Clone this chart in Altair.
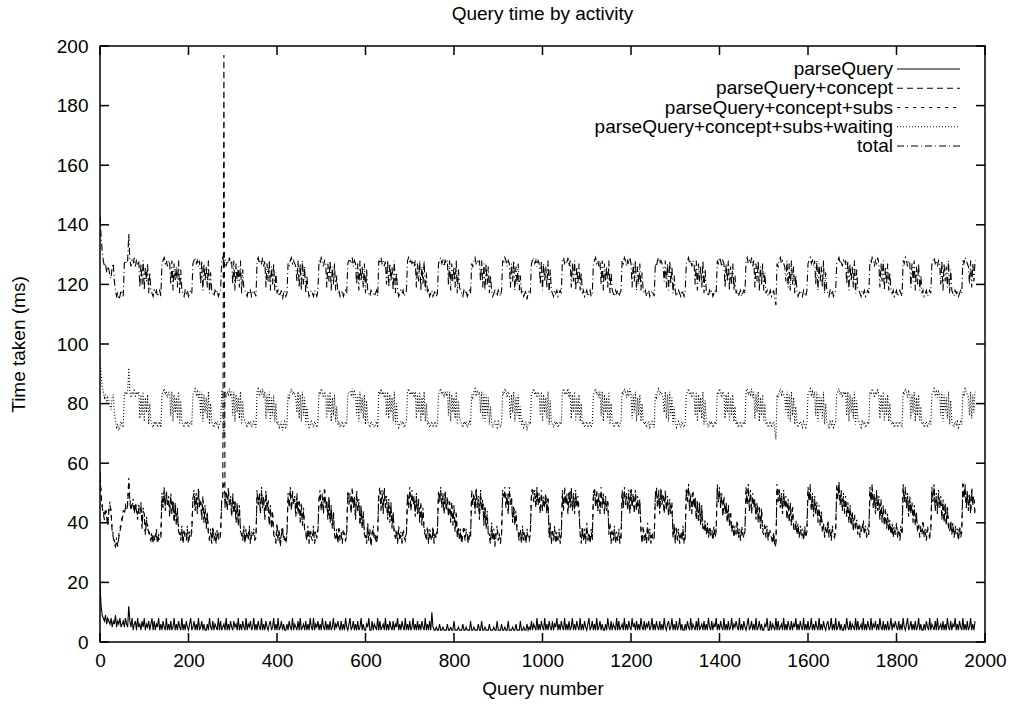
import altair as alt
import pandas as pd

# ---------------- text ----------------
title_text = "Query time by activity"
x_title = "Query number"
y_title = "Time taken (ms)"
series_names = [
    "parseQuery",
    "parseQuery+concept",
    "parseQuery+concept+subs",
    "parseQuery+concept+subs+waiting",
    "total",
]
x_ticks = [0, 200, 400, 600, 800, 1000, 1200, 1400, 1600, 1800, 2000]
y_ticks = [0, 20, 40, 60, 80, 100, 120, 140, 160, 180, 200]

# sampling step of the query number (one value every 2.5 queries)
step_fine = 2.5

# ---------------- series values (ms) ----------------
parse_query = [
    19, 12, 9, 8, 7, 9, 6, 8, 7, 6, 8, 5, 7, 6, 9, 5, 7, 6, 8, 5, 6, 7, 5, 8,
    6, 5, 12, 7, 5, 8, 4, 6, 7, 4, 8, 5, 6, 4, 7, 5, 8, 4, 6, 5, 7, 4, 6, 8,
    4, 7, 4, 6, 5, 8, 4, 6, 4, 7, 5, 4, 8, 4, 6, 4, 7, 4, 5, 8, 4, 6, 4, 7,
    5, 4, 8, 4, 6, 4, 7, 5, 4, 6, 8, 4, 5, 7, 4, 6, 4, 8, 4, 5, 7, 4, 6, 4,
    4, 6, 4, 8, 5, 4, 7, 4, 6, 5, 4, 8, 4, 7, 4, 5, 6, 4, 8, 4, 6, 4, 7, 5,
    4, 7, 5, 6, 4, 8, 4, 6, 4, 7, 5, 4, 8, 4, 6, 5, 7, 4, 5, 8, 4, 6, 4, 7,
    5, 4, 8, 4, 6, 4, 7, 5, 4, 6, 7, 4, 5, 8, 4, 6, 4, 8, 4, 5, 7, 4, 6, 4,
    4, 6, 4, 7, 5, 4, 8, 4, 6, 5, 4, 7, 4, 8, 4, 5, 6, 4, 7, 4, 6, 4, 8, 5,
    4, 8, 4, 6, 5, 7, 4, 6, 4, 8, 5, 4, 7, 4, 6, 4, 7, 4, 5, 8, 4, 6, 5, 7,
    5, 4, 7, 4, 6, 4, 8, 5, 4, 6, 8, 4, 5, 7, 4, 6, 4, 7, 4, 5, 8, 4, 6, 4,
    4, 6, 5, 8, 4, 4, 7, 4, 6, 5, 4, 8, 4, 7, 4, 5, 6, 4, 8, 4, 6, 4, 7, 5,
    4, 7, 4, 6, 5, 8, 4, 6, 4, 7, 5, 4, 8, 4, 6, 4, 7, 4, 5, 8, 4, 6, 4, 7,
    4, 6, 4, 7, 5, 4, 8, 4, 6, 4, 7, 4, 10, 5, 4, 4, 5, 4, 4, 6, 4, 4, 5, 4,
    4, 4, 6, 4, 4, 5, 4, 4, 7, 4, 4, 4, 5, 4, 4, 4, 6, 4, 4, 5, 4, 4, 4, 7,
    4, 4, 5, 4, 4, 4, 6, 4, 4, 7, 4, 4, 5, 4, 4, 4, 6, 4, 4, 4, 5, 4, 4, 7,
    4, 4, 4, 6, 4, 4, 5, 4, 4, 7, 4, 4, 4, 5, 4, 4, 6, 4, 4, 4, 7, 4, 4, 5,
    4, 4, 6, 4, 5, 4, 7, 4, 6, 5, 4, 8, 4, 6, 4, 7, 5, 4, 8, 4, 6, 4, 7, 5,
    4, 7, 4, 6, 5, 8, 4, 6, 4, 7, 5, 4, 8, 4, 6, 4, 7, 4, 5, 8, 4, 6, 4, 7,
    5, 4, 8, 4, 6, 4, 7, 5, 4, 6, 8, 4, 5, 7, 4, 6, 4, 8, 4, 5, 7, 4, 6, 4,
    4, 6, 4, 8, 5, 4, 7, 4, 6, 5, 4, 8, 4, 7, 4, 5, 6, 4, 8, 4, 6, 4, 7, 5,
    4, 8, 5, 6, 4, 7, 4, 6, 4, 8, 5, 4, 7, 4, 6, 5, 7, 4, 5, 8, 4, 6, 4, 7,
    5, 4, 7, 4, 6, 4, 8, 5, 4, 6, 7, 4, 5, 8, 4, 6, 4, 7, 4, 5, 8, 4, 6, 4,
    4, 6, 4, 7, 5, 4, 8, 4, 6, 5, 4, 7, 4, 8, 4, 5, 6, 4, 7, 4, 6, 4, 8, 5,
    4, 7, 4, 6, 5, 8, 4, 6, 4, 7, 5, 4, 8, 4, 6, 4, 7, 4, 5, 8, 4, 6, 5, 7,
    5, 4, 8, 4, 6, 4, 7, 5, 4, 6, 8, 4, 5, 7, 4, 6, 4, 8, 4, 5, 7, 4, 6, 4,
    4, 6, 5, 8, 4, 4, 7, 4, 6, 5, 4, 8, 4, 7, 4, 5, 6, 4, 8, 4, 6, 4, 7, 5,
    4, 7, 4, 6, 5, 8, 4, 6, 4, 7, 5, 4, 8, 4, 6, 4, 7, 4, 5, 8, 4, 6, 4, 7,
    5, 4, 8, 4, 6, 4, 7, 5, 4, 6, 7, 4, 5, 8, 4, 6, 4, 8, 4, 5, 7, 4, 6, 4,
    4, 6, 4, 8, 5, 4, 7, 4, 6, 5, 4, 8, 4, 7, 4, 5, 6, 4, 8, 4, 6, 4, 7, 5,
    4, 8, 4, 6, 5, 7, 4, 6, 4, 8, 5, 4, 7, 4, 6, 4, 7, 4, 5, 8, 4, 6, 5, 7,
    5, 4, 7, 4, 6, 4, 8, 5, 4, 6, 8, 4, 5, 7, 4, 6, 4, 7, 4, 5, 8, 4, 6, 4,
    4, 6, 4, 7, 5, 4, 8, 4, 6, 5, 4, 7, 4, 8, 4, 5, 6, 4, 7, 4, 6, 4, 8, 5,
    4, 7, 4, 6, 5, 8, 4, 6, 4, 7, 5, 4, 8, 4, 6, 4, 7, 4, 5, 8, 4, 6, 4, 7,
]

concept = [
    56, 49, 45, 43, 41, 44, 42, 39, 44, 46, 43, 37, 35, 33, 32, 34, 32, 35, 37, 39, 41, 43,
    43, 45, 44, 46, 54, 47, 44, 46, 47, 43, 46, 44, 41, 45, 43, 46, 38, 44, 43, 36, 41, 38, 37, 35, 34, 36, 33, 35, 34, 37, 33, 35, 34, 35,
    49, 45, 51, 44, 50, 46, 48, 42, 49, 43, 47, 40, 46, 39, 44, 37, 36, 34, 38, 33, 37, 35, 34, 38, 33, 36, 35, 37,
    48, 50, 44, 49, 43, 51, 45, 47, 41, 48, 40, 45, 38, 43, 36, 34, 37, 33, 38, 34, 36, 33, 37, 35, 34, 36,
    47, 49, 197, 45, 50, 44, 51, 46, 48, 42, 49, 43, 47, 40, 46, 39, 45, 37, 36, 34, 38, 33, 37, 35, 34, 38, 33, 36, 35, 37, 34, 35,
    50, 46, 49, 43, 51, 45, 48, 41, 50, 44, 47, 39, 45, 38, 43, 36, 35, 33, 39, 34, 37, 32, 36, 38, 34, 35, 33, 36,
    49, 45, 51, 44, 50, 46, 48, 42, 49, 43, 47, 40, 46, 39, 44, 37, 36, 34, 38, 33, 37, 35, 34, 38, 33, 36, 35, 37,
    48, 50, 44, 49, 43, 51, 45, 47, 41, 48, 40, 45, 38, 43, 36, 34, 37, 33, 38, 34, 36, 33, 37, 35, 34, 36,
    50, 46, 49, 43, 51, 45, 48, 41, 50, 44, 47, 39, 45, 38, 43, 36, 35, 33, 39, 34, 37, 32, 36, 38, 34, 35, 33, 36,
    49, 51, 44, 50, 43, 51, 45, 48, 41, 47, 40, 46, 38, 43, 36, 35, 37, 33, 38, 34, 36, 33, 37, 35, 34, 36,
    49, 45, 51, 44, 50, 46, 48, 42, 49, 43, 47, 40, 46, 39, 44, 37, 36, 34, 38, 33, 37, 35, 34, 38, 33, 36, 35, 37,
    50, 47, 51, 45, 49, 43, 50, 44, 48, 42, 47, 40, 46, 39, 45, 37, 43, 35, 38, 34, 37, 33, 36, 38, 34, 37, 35, 33, 36, 35,
    50, 46, 49, 43, 51, 45, 48, 41, 50, 44, 47, 39, 45, 38, 43, 36, 35, 33, 39, 34, 37, 32, 36, 38, 34, 35, 33, 36,
    50, 48, 51, 45, 49, 43, 51, 46, 48, 40, 45, 39, 43, 37, 36, 34, 37, 33, 38, 34, 36, 33, 37, 35, 34, 36,
    49, 51, 47, 50, 45, 51, 46, 49, 43, 50, 44, 48, 45, 49, 43, 48, 35, 39, 33, 37, 34, 38, 33, 36, 34, 37, 33, 36,
    50, 44, 51, 46, 49, 43, 50, 45, 51, 44, 49, 43, 50, 45, 48, 44, 36, 33, 38, 34, 37, 33, 39, 34, 36, 33, 37, 34,
    49, 51, 45, 50, 44, 49, 43, 51, 45, 49, 43, 48, 44, 47, 36, 39, 33, 37, 34, 38, 33, 36, 34, 37, 33, 35,
    50, 45, 51, 46, 49, 44, 50, 43, 51, 45, 49, 43, 50, 44, 48, 43, 47, 37, 33, 38, 34, 36, 33, 39, 34, 37, 33, 36, 34, 35,
    49, 51, 45, 50, 43, 51, 46, 49, 43, 50, 44, 48, 42, 47, 43, 46, 35, 39, 33, 38, 34, 37, 33, 36, 34, 38, 33, 35,
    51, 47, 52, 44, 49, 43, 50, 45, 48, 41, 47, 40, 46, 39, 45, 38, 37, 40, 36, 39, 35, 38, 36, 37, 34, 38, 35, 37,
    52, 47, 51, 45, 49, 42, 48, 43, 46, 40, 45, 39, 43, 37, 39, 35, 38, 36, 40, 35, 37, 34, 38, 36, 35, 37,
    51, 46, 52, 44, 50, 43, 49, 45, 47, 41, 46, 40, 45, 38, 44, 37, 36, 39, 35, 38, 34, 37, 36, 35, 33, 36, 32, 33,
    52, 47, 51, 45, 49, 43, 50, 45, 48, 41, 47, 40, 46, 39, 45, 38, 37, 40, 36, 39, 35, 38, 36, 37, 34, 38, 35, 37,
    51, 47, 52, 44, 49, 42, 48, 43, 46, 40, 45, 39, 43, 37, 39, 35, 38, 36, 40, 35, 37, 34, 38, 36, 35, 37,
    52, 48, 53, 46, 50, 44, 49, 43, 48, 42, 46, 40, 45, 39, 43, 37, 42, 38, 40, 36, 39, 35, 38, 37, 40, 36, 38, 35, 37, 36,
    51, 47, 52, 45, 49, 43, 50, 44, 48, 41, 47, 40, 45, 39, 44, 38, 42, 37, 40, 36, 39, 35, 38, 36, 39, 35, 37, 34, 38, 36,
    52, 47, 51, 45, 49, 42, 48, 43, 46, 40, 45, 39, 43, 37, 39, 35, 38, 36, 40, 35, 37, 34, 38, 36, 35, 37,
    51, 47, 52, 44, 49, 43, 50, 45, 48, 41, 47, 40, 46, 39, 45, 38, 37, 40, 36, 39, 35, 38, 36, 37, 34, 38, 35, 37,
    53, 48, 52, 45, 50, 44, 49, 43, 51, 46, 48, 42,
]

subs = [
    57, 50, 46, 44, 42, 45, 43, 40, 45, 47, 44, 38, 36, 34, 33, 35, 33, 36, 38, 40, 42, 44,
    44, 46, 45, 47, 55, 48, 45, 47, 48, 44, 47, 45, 42, 46, 44, 47, 39, 45, 44, 37, 42, 39, 38, 36, 35, 37, 34, 36, 35, 38, 34, 36, 35, 36,
    50, 46, 52, 45, 51, 47, 49, 43, 50, 44, 48, 41, 47, 40, 45, 38, 37, 35, 39, 34, 38, 36, 35, 39, 34, 37, 36, 38,
    49, 51, 45, 50, 44, 52, 46, 48, 42, 49, 41, 46, 39, 44, 37, 35, 38, 34, 39, 35, 37, 34, 38, 36, 35, 37,
    48, 50, 54, 46, 51, 45, 52, 47, 49, 43, 50, 44, 48, 41, 47, 40, 46, 38, 37, 35, 39, 34, 38, 36, 35, 39, 34, 37, 36, 38, 35, 36,
    51, 47, 50, 44, 52, 46, 49, 42, 51, 45, 48, 40, 46, 39, 44, 37, 36, 34, 40, 35, 38, 33, 37, 39, 35, 36, 34, 37,
    50, 46, 52, 45, 51, 47, 49, 43, 50, 44, 48, 41, 47, 40, 45, 38, 37, 35, 39, 34, 38, 36, 35, 39, 34, 37, 36, 38,
    49, 51, 45, 50, 44, 52, 46, 48, 42, 49, 41, 46, 39, 44, 37, 35, 38, 34, 39, 35, 37, 34, 38, 36, 35, 37,
    51, 47, 50, 44, 52, 46, 49, 42, 51, 45, 48, 40, 46, 39, 44, 37, 36, 34, 40, 35, 38, 33, 37, 39, 35, 36, 34, 37,
    50, 52, 45, 51, 44, 52, 46, 49, 42, 48, 41, 47, 39, 44, 37, 36, 38, 34, 39, 35, 37, 34, 38, 36, 35, 37,
    50, 46, 52, 45, 51, 47, 49, 43, 50, 44, 48, 41, 47, 40, 45, 38, 37, 35, 39, 34, 38, 36, 35, 39, 34, 37, 36, 38,
    51, 48, 52, 46, 50, 44, 51, 45, 49, 43, 48, 41, 47, 40, 46, 38, 44, 36, 39, 35, 38, 34, 37, 39, 35, 38, 36, 34, 37, 36,
    51, 47, 50, 44, 52, 46, 49, 42, 51, 45, 48, 40, 46, 39, 44, 37, 36, 34, 40, 35, 38, 33, 37, 39, 35, 36, 34, 37,
    51, 49, 52, 46, 50, 44, 52, 47, 49, 41, 46, 40, 44, 38, 37, 35, 38, 34, 39, 35, 37, 34, 38, 36, 35, 37,
    50, 52, 48, 51, 46, 52, 47, 50, 44, 51, 45, 49, 46, 50, 44, 49, 36, 40, 34, 38, 35, 39, 34, 37, 35, 38, 34, 37,
    51, 45, 52, 47, 50, 44, 51, 46, 52, 45, 50, 44, 51, 46, 49, 45, 37, 34, 39, 35, 38, 34, 40, 35, 37, 34, 38, 35,
    50, 52, 46, 51, 45, 50, 44, 52, 46, 50, 44, 49, 45, 48, 37, 40, 34, 38, 35, 39, 34, 37, 35, 38, 34, 36,
    51, 46, 52, 47, 50, 45, 51, 44, 52, 46, 50, 44, 51, 45, 49, 44, 48, 38, 34, 39, 35, 37, 34, 40, 35, 38, 34, 37, 35, 36,
    50, 52, 46, 51, 44, 52, 47, 50, 44, 51, 45, 49, 43, 48, 44, 47, 36, 40, 34, 39, 35, 38, 34, 37, 35, 39, 34, 36,
    52, 48, 53, 45, 50, 44, 51, 46, 49, 42, 48, 41, 47, 40, 46, 39, 38, 41, 37, 40, 36, 39, 37, 38, 35, 39, 36, 38,
    53, 48, 52, 46, 50, 43, 49, 44, 47, 41, 46, 40, 44, 38, 40, 36, 39, 37, 41, 36, 38, 35, 39, 37, 36, 38,
    52, 47, 53, 45, 51, 44, 50, 46, 48, 42, 47, 41, 46, 39, 45, 38, 37, 40, 36, 39, 35, 38, 37, 36, 34, 37, 33, 32,
    53, 48, 52, 46, 50, 44, 51, 46, 49, 42, 48, 41, 47, 40, 46, 39, 38, 41, 37, 40, 36, 39, 37, 38, 35, 39, 36, 38,
    52, 48, 53, 45, 50, 43, 49, 44, 47, 41, 46, 40, 44, 38, 40, 36, 39, 37, 41, 36, 38, 35, 39, 37, 36, 38,
    53, 49, 54, 47, 51, 45, 50, 44, 49, 43, 47, 41, 46, 40, 44, 38, 43, 39, 41, 37, 40, 36, 39, 38, 41, 37, 39, 36, 38, 37,
    52, 48, 53, 46, 50, 44, 51, 45, 49, 42, 48, 41, 46, 40, 45, 39, 43, 38, 41, 37, 40, 36, 39, 37, 40, 36, 38, 35, 39, 37,
    53, 48, 52, 46, 50, 43, 49, 44, 47, 41, 46, 40, 44, 38, 40, 36, 39, 37, 41, 36, 38, 35, 39, 37, 36, 38,
    52, 48, 53, 45, 50, 44, 51, 46, 49, 42, 48, 41, 47, 40, 46, 39, 38, 41, 37, 40, 36, 39, 37, 38, 35, 39, 36, 38,
    54, 49, 53, 46, 51, 45, 50, 44, 52, 47, 49, 43,
]

waiting = [
    95, 90, 86, 84, 82, 83, 80, 82, 81, 79, 78, 82, 83, 77, 74, 72, 73, 71, 72, 74, 73, 72,
    83, 84, 83, 84, 92, 84, 82, 84, 83, 85, 82, 84, 83, 84, 75, 83, 76, 84, 74, 82, 77, 83, 73, 80, 74, 73, 72, 74, 73, 74, 72, 73, 74, 72,
    83, 84, 85, 83, 84, 82, 84, 83, 76, 84, 74, 83, 77, 82, 75, 84, 73, 81, 74, 73, 72, 74, 73, 74, 72, 73, 74, 73,
    83, 84, 85, 83, 84, 82, 84, 76, 84, 74, 83, 77, 82, 75, 84, 73, 80, 74, 73, 72, 74, 73, 74, 72, 73, 74,
    84, 85, 68, 84, 82, 84, 83, 85, 83, 84, 76, 84, 74, 83, 77, 82, 75, 84, 73, 81, 75, 74, 73, 72, 74, 73, 74, 72, 73, 74, 73, 72,
    84, 85, 83, 84, 83, 85, 82, 84, 75, 83, 77, 84, 74, 82, 76, 83, 74, 80, 73, 74, 72, 73, 74, 71, 73, 74, 72, 73,
    83, 82, 84, 85, 83, 84, 83, 82, 77, 84, 75, 83, 74, 84, 76, 82, 73, 79, 74, 72, 73, 74, 73, 72, 74, 73, 72, 74,
    84, 83, 85, 84, 82, 84, 83, 75, 83, 77, 84, 74, 82, 76, 83, 74, 79, 73, 74, 72, 73, 74, 72, 73, 74, 73,
    83, 84, 84, 83, 85, 82, 84, 83, 76, 83, 74, 84, 77, 82, 75, 83, 73, 81, 74, 73, 72, 74, 73, 73, 72, 73, 74, 72,
    84, 83, 85, 83, 84, 82, 84, 76, 84, 75, 83, 77, 82, 74, 84, 73, 80, 74, 72, 73, 74, 73, 74, 72, 73, 74,
    84, 85, 83, 84, 83, 84, 82, 84, 75, 83, 77, 84, 74, 82, 76, 84, 74, 80, 73, 74, 72, 73, 74, 72, 73, 74, 72, 73,
    83, 84, 85, 83, 84, 82, 84, 83, 84, 76, 84, 74, 83, 77, 82, 75, 84, 73, 81, 75, 74, 73, 72, 74, 73, 74, 72, 73, 74, 73,
    83, 82, 84, 85, 83, 84, 83, 84, 77, 84, 75, 83, 74, 83, 76, 82, 73, 79, 74, 72, 73, 74, 73, 72, 74, 73, 72, 74,
    84, 83, 85, 84, 82, 84, 83, 75, 83, 77, 84, 74, 82, 76, 83, 74, 79, 73, 74, 72, 73, 74, 71, 73, 74, 73,
    83, 84, 85, 83, 84, 82, 84, 83, 76, 84, 74, 83, 77, 82, 75, 84, 73, 81, 74, 73, 72, 74, 73, 74, 72, 73, 74, 73,
    84, 85, 83, 84, 83, 85, 82, 84, 75, 83, 77, 84, 74, 82, 76, 83, 74, 80, 73, 74, 72, 73, 74, 72, 73, 74, 72, 73,
    83, 84, 85, 83, 84, 82, 84, 76, 84, 74, 83, 77, 82, 75, 84, 73, 80, 74, 73, 72, 74, 73, 74, 72, 73, 74,
    84, 83, 85, 84, 82, 84, 83, 85, 83, 75, 83, 77, 84, 74, 82, 76, 83, 74, 80, 74, 73, 74, 72, 73, 74, 72, 73, 74, 73, 72,
    83, 82, 84, 85, 83, 84, 83, 82, 77, 84, 75, 83, 74, 84, 76, 82, 73, 79, 74, 72, 73, 74, 73, 72, 74, 73, 72, 74,
    83, 84, 85, 83, 84, 82, 84, 83, 76, 84, 74, 83, 77, 82, 75, 84, 73, 81, 74, 73, 72, 74, 73, 74, 72, 73, 74, 73,
    84, 83, 85, 84, 82, 84, 83, 75, 83, 77, 84, 74, 82, 76, 83, 74, 79, 73, 74, 72, 73, 74, 72, 73, 74, 73,
    84, 85, 83, 84, 83, 85, 82, 84, 75, 83, 77, 84, 74, 82, 76, 83, 74, 80, 73, 74, 72, 73, 74, 72, 73, 74, 71, 68,
    83, 82, 84, 85, 83, 84, 83, 82, 77, 84, 75, 83, 74, 84, 76, 82, 73, 79, 74, 72, 73, 74, 73, 72, 74, 73, 72, 74,
    83, 84, 85, 83, 84, 82, 84, 76, 84, 74, 83, 77, 82, 75, 84, 73, 80, 74, 73, 72, 74, 73, 74, 72, 73, 74,
    83, 84, 85, 83, 84, 82, 84, 83, 84, 76, 84, 74, 83, 77, 82, 75, 84, 73, 81, 75, 74, 73, 72, 74, 73, 74, 72, 73, 74, 73,
    84, 83, 85, 84, 82, 84, 83, 85, 83, 75, 83, 77, 84, 74, 82, 76, 83, 74, 80, 74, 73, 74, 72, 73, 74, 72, 73, 74, 73, 72,
    84, 83, 85, 84, 82, 84, 83, 75, 83, 77, 84, 74, 82, 76, 83, 74, 79, 73, 74, 72, 73, 74, 72, 73, 74, 73,
    83, 84, 85, 83, 84, 82, 84, 83, 76, 84, 74, 83, 77, 82, 75, 84, 73, 81, 74, 73, 72, 74, 73, 74, 72, 73, 74, 73,
    84, 83, 85, 84, 83, 82, 76, 84, 75, 83, 77, 84,
]

total = [
    143, 136, 131, 128, 126, 127, 124, 126, 125, 123, 122, 126, 127, 121, 118, 116, 117, 115, 116, 118, 117, 116,
    127, 128, 127, 128, 137, 128, 126, 128, 127, 129, 126, 128, 127, 128, 119, 127, 120, 128, 118, 126, 121, 127, 117, 124, 118, 117, 116, 118, 117, 118, 116, 117, 118, 116,
    127, 128, 129, 127, 128, 126, 128, 127, 120, 128, 118, 127, 121, 126, 119, 128, 117, 125, 118, 117, 116, 118, 117, 118, 116, 117, 118, 117,
    127, 128, 129, 127, 128, 126, 128, 120, 128, 118, 127, 121, 126, 119, 128, 117, 124, 118, 117, 116, 118, 117, 118, 116, 117, 118,
    128, 129, 127, 128, 126, 128, 127, 129, 127, 128, 120, 128, 118, 127, 121, 126, 119, 128, 117, 125, 119, 118, 117, 116, 118, 117, 118, 116, 117, 118, 117, 116,
    128, 129, 127, 128, 127, 129, 126, 128, 119, 127, 121, 128, 118, 126, 120, 127, 118, 124, 117, 118, 116, 117, 118, 115, 117, 118, 116, 117,
    127, 126, 128, 129, 127, 128, 127, 126, 121, 128, 119, 127, 118, 128, 120, 126, 117, 123, 118, 116, 117, 118, 117, 116, 118, 117, 116, 118,
    128, 127, 129, 128, 126, 128, 127, 119, 127, 121, 128, 118, 126, 120, 127, 118, 123, 117, 118, 116, 117, 118, 116, 117, 118, 117,
    127, 128, 128, 127, 129, 126, 128, 127, 120, 127, 118, 128, 121, 126, 119, 127, 117, 125, 118, 117, 116, 118, 117, 117, 116, 117, 118, 116,
    128, 127, 129, 127, 128, 126, 128, 120, 128, 119, 127, 121, 126, 118, 128, 117, 124, 118, 116, 117, 118, 117, 118, 116, 117, 118,
    128, 129, 127, 128, 127, 128, 126, 128, 119, 127, 121, 128, 118, 126, 120, 128, 118, 124, 117, 118, 116, 117, 118, 116, 117, 118, 116, 117,
    127, 128, 129, 127, 128, 126, 128, 127, 128, 120, 128, 118, 127, 121, 126, 119, 128, 117, 125, 119, 118, 117, 116, 118, 117, 118, 116, 117, 118, 117,
    127, 126, 128, 129, 127, 128, 127, 128, 121, 128, 119, 127, 118, 127, 120, 126, 117, 123, 118, 116, 117, 118, 117, 116, 118, 117, 116, 118,
    128, 127, 129, 128, 126, 128, 127, 119, 127, 121, 128, 118, 126, 120, 127, 118, 123, 117, 118, 116, 117, 118, 115, 117, 118, 117,
    127, 128, 129, 127, 128, 126, 128, 127, 120, 128, 118, 127, 121, 126, 119, 128, 117, 125, 118, 117, 116, 118, 117, 118, 116, 117, 118, 117,
    128, 129, 127, 128, 127, 129, 126, 128, 119, 127, 121, 128, 118, 126, 120, 127, 118, 124, 117, 118, 116, 117, 118, 116, 117, 118, 116, 117,
    127, 128, 129, 127, 128, 126, 128, 120, 128, 118, 127, 121, 126, 119, 128, 117, 124, 118, 117, 116, 118, 117, 118, 116, 117, 118,
    128, 127, 129, 128, 126, 128, 127, 129, 127, 119, 127, 121, 128, 118, 126, 120, 127, 118, 124, 118, 117, 118, 116, 117, 118, 116, 117, 118, 117, 116,
    127, 126, 128, 129, 127, 128, 127, 126, 121, 128, 119, 127, 118, 128, 120, 126, 117, 123, 118, 116, 117, 118, 117, 116, 118, 117, 116, 118,
    127, 128, 129, 127, 128, 126, 128, 127, 120, 128, 118, 127, 121, 126, 119, 128, 117, 125, 118, 117, 116, 118, 117, 118, 116, 117, 118, 117,
    128, 127, 129, 128, 126, 128, 127, 119, 127, 121, 128, 118, 126, 120, 127, 118, 123, 117, 118, 116, 117, 118, 116, 117, 118, 117,
    128, 129, 127, 128, 127, 129, 126, 128, 119, 127, 121, 128, 118, 126, 120, 127, 118, 124, 117, 118, 116, 117, 118, 116, 117, 118, 115, 113,
    127, 126, 128, 129, 127, 128, 127, 126, 121, 128, 119, 127, 118, 128, 120, 126, 117, 123, 118, 116, 117, 118, 117, 116, 118, 117, 116, 118,
    127, 128, 129, 127, 128, 126, 128, 120, 128, 118, 127, 121, 126, 119, 128, 117, 124, 118, 117, 116, 118, 117, 118, 116, 117, 118,
    127, 128, 129, 127, 128, 126, 128, 127, 128, 120, 128, 118, 127, 121, 126, 119, 128, 117, 125, 119, 118, 117, 116, 118, 117, 118, 116, 117, 118, 117,
    128, 127, 129, 128, 126, 128, 127, 129, 127, 119, 127, 121, 128, 118, 126, 120, 127, 118, 124, 118, 117, 118, 116, 117, 118, 116, 117, 118, 117, 116,
    128, 127, 129, 128, 126, 128, 127, 119, 127, 121, 128, 118, 126, 120, 127, 118, 123, 117, 118, 116, 117, 118, 116, 117, 118, 117,
    127, 128, 129, 127, 128, 126, 128, 127, 120, 128, 118, 127, 121, 126, 119, 128, 117, 125, 118, 117, 116, 118, 117, 118, 116, 117, 118, 117,
    128, 127, 129, 128, 127, 126, 120, 128, 119, 127, 121, 128,
]

# ---------------- styles ----------------
dash_styles = [[1, 0], [6, 4], [3, 5], [1, 2], [7, 3, 1, 3]]
FONT = "Liberation Sans"
FS = 19
W, H = 885, 596
TICK = 9

rows = []
for name, vals in zip(series_names, [parse_query, concept, subs, waiting, total]):
    for i, v in enumerate(vals):
        rows.append({"query": i * step_fine, "ms": v, "series": name})
df = pd.DataFrame(rows)

xscale = alt.Scale(domain=[0, 2000], nice=False, zero=False)
yscale = alt.Scale(domain=[0, 200], nice=False, zero=False)
dash_scale = alt.Scale(domain=series_names, range=dash_styles)

x_axis = alt.Axis(
    values=x_ticks, title=x_title, grid=False, ticks=False, domain=False, format="d",
    labelFont=FONT, labelFontSize=FS, labelColor="black", labelPadding=9,
    labelFlush=False, labelOverlap=False,
    titleFont=FONT, titleFontSize=FS, titleFontWeight="normal", titleColor="black",
    titleX=W / 2, titleY=46, titleBaseline="middle", titleAlign="center",
)
y_axis = alt.Axis(
    values=y_ticks, title=y_title, grid=False, ticks=False, domain=False, format="d",
    labelFont=FONT, labelFontSize=FS, labelColor="black", labelPadding=12,
    labelOverlap=False,
    titleFont=FONT, titleFontSize=FS, titleFontWeight="normal", titleColor="black",
    titleX=-82, titleY=H / 2, titleBaseline="middle", titleAlign="center", titleAngle=-90,
)

lines = alt.Chart(df).mark_line(color="black", strokeWidth=1.1, clip=True).encode(
    x=alt.X("query:Q", scale=xscale, axis=x_axis),
    y=alt.Y("ms:Q", scale=yscale, axis=y_axis),
    strokeDash=alt.StrokeDash("series:N", scale=dash_scale, legend=None),
    order=alt.Order("query:Q"),
)

# inward gnuplot-style ticks on all four sides (same fields/axes as the lines)
ydf = pd.DataFrame({"ms": y_ticks})
xdf = pd.DataFrame({"query": x_ticks})
tick_style = dict(color="black", strokeWidth=1.5)
left_ticks = alt.Chart(ydf).mark_rule(**tick_style).encode(
    y=alt.Y("ms:Q", scale=yscale, axis=y_axis), x=alt.value(0), x2=alt.value(TICK))
right_ticks = alt.Chart(ydf).mark_rule(**tick_style).encode(
    y=alt.Y("ms:Q", scale=yscale, axis=y_axis), x=alt.value(W - TICK), x2=alt.value(W))
bottom_ticks = alt.Chart(xdf).mark_rule(**tick_style).encode(
    x=alt.X("query:Q", scale=xscale, axis=x_axis), y=alt.value(H - TICK), y2=alt.value(H))
top_ticks = alt.Chart(xdf).mark_rule(**tick_style).encode(
    x=alt.X("query:Q", scale=xscale, axis=x_axis), y=alt.value(0), y2=alt.value(TICK))

plot = alt.layer(lines, left_ticks, right_ticks, bottom_ticks, top_ticks)

# gnuplot-style key: label on the left, line sample on the right
ldf = pd.DataFrame({"series": series_names})
row_scale = alt.Scale(type="point", domain=series_names, range=[23, 100], padding=0)
key_text = alt.Chart(ldf).mark_text(
    align="right", baseline="middle", font=FONT, fontSize=FS, color="black"
).encode(
    y=alt.Y("series:N", scale=row_scale, axis=None),
    x=alt.value(793),
    text="series:N",
)
key_line = alt.Chart(ldf).mark_rule(color="black", strokeWidth=1.1).encode(
    y=alt.Y("series:N", scale=row_scale, axis=None),
    x=alt.value(797),
    x2=alt.value(860),
    strokeDash=alt.StrokeDash("series:N", scale=dash_scale, legend=None),
)
key = alt.layer(key_text, key_line)

# chart title, centred above the plot
tdf = pd.DataFrame({"label": [title_text]})
title_mark = alt.Chart(tdf).mark_text(
    align="center", baseline="alphabetic", font=FONT, fontSize=FS, color="black"
).encode(x=alt.value(W / 2), y=alt.value(-26), text="label:N")

chart = (
    alt.layer(plot, key, title_mark)
    .resolve_scale(y="independent")
    .properties(
        width=W,
        height=H,
        padding={"left": 100, "top": 46, "right": 34, "bottom": 63},
        autosize=alt.AutoSizeParams(type="none"),
        background="white",
    )
    .configure_view(stroke="black", strokeWidth=1.5)
)

chart.save("out.html", embed_options={"renderer": "svg", "actions": False})
